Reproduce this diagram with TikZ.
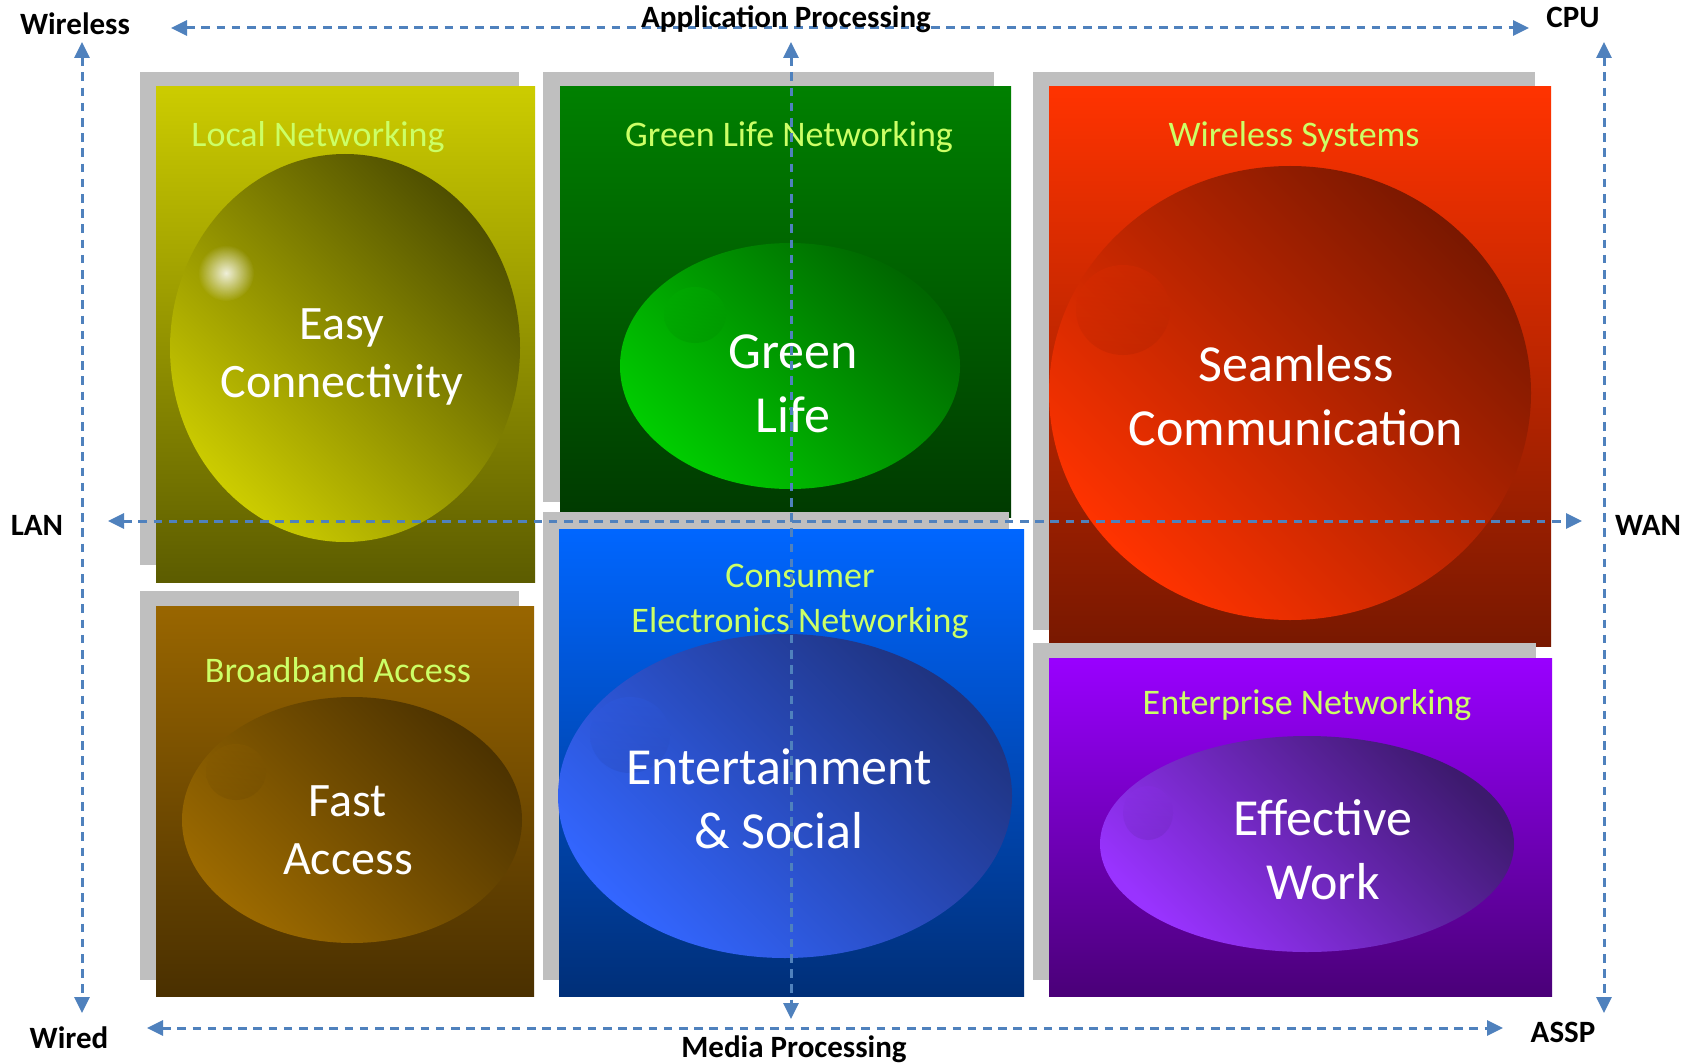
\documentclass[tikz,border=0pt]{standalone}
\usepackage{fontspec}
\setmainfont{Carlito}
\usetikzlibrary{arrows.meta,fadings}

\definecolor{axisblue}{HTML}{4F81BD}
\definecolor{shadowgray}{HTML}{BFBFBF}
\definecolor{titlegreen}{HTML}{CCFF66}
% yellow
\definecolor{yTop}{HTML}{CCCC00}\definecolor{yMid}{HTML}{9E9E00}\definecolor{yBot}{HTML}{5C5C00}
\definecolor{yDark}{HTML}{4F4F00}\definecolor{yBright}{HTML}{CCCC00}
% green
\definecolor{gTop}{HTML}{008000}\definecolor{gBot}{HTML}{003A00}
\definecolor{gDark}{HTML}{006600}\definecolor{gBright}{HTML}{00CC00}
% red
\definecolor{rTop}{HTML}{FF3300}\definecolor{rBot}{HTML}{781800}
\definecolor{rDark}{HTML}{7A1800}\definecolor{rBright}{HTML}{FF3300}
% brown
\definecolor{brTop}{HTML}{996600}\definecolor{brBot}{HTML}{4A3000}
\definecolor{brDark}{HTML}{4D3300}\definecolor{brBright}{HTML}{9C6A00}
% blue
\definecolor{bTop}{HTML}{0066FF}\definecolor{bBot}{HTML}{002F78}
\definecolor{bDark}{HTML}{1F3380}\definecolor{bBright}{HTML}{3366FF}
% purple
\definecolor{pTop}{HTML}{9900FF}\definecolor{pBot}{HTML}{4A0078}
\definecolor{pDark}{HTML}{3D1A6E}\definecolor{pBright}{HTML}{9933FF}

\tikzfading[name=glowfade, inner color=transparent!0, outer color=transparent!100]

\begin{document}
\begin{tikzpicture}[x=0.5pt, y=-0.5pt,
  shadowrect/.style={fill=shadowgray},
  axisarrow/.style={draw=axisblue, line width=1.5pt, dash pattern=on 4.3pt off 3.3pt,
     {Triangle[length=8pt,width=7.5pt]}-{Triangle[length=8pt,width=7.5pt]}},
  axislabel/.style={font=\fontsize{15.5pt}{19pt}\selectfont\bfseries, text=black, inner sep=0pt},
  sectitle/.style={font=\fontsize{18pt}{22.5pt}\selectfont, text=titlegreen, inner sep=0pt, align=center},
  bigsmall/.style={font=\fontsize{24pt}{29pt}\selectfont, text=white, inner sep=0pt, align=center},
  biglarge/.style={font=\fontsize{26pt}{32pt}\selectfont, text=white, inner sep=0pt, align=center},
  reflect/.style={opacity=0.14}
]
\fill[white] (0,0) rectangle (1696,1064);
\useasboundingbox (0,0) rectangle (1696,1064);

% ---------- Local Networking (yellow) ----------
\fill[shadowrect] (140,72) rectangle (519,565);
\shade[top color=yTop, middle color=yMid, bottom color=yBot] (156,87) rectangle (535,582);
\node[sectitle, anchor=base] (tLocal) at (318,147) {Local Networking};
\shade[top color=yDark, bottom color=yBright, shading angle=-45] (345,348) ellipse [x radius=175, y radius=194];
\fill[white, opacity=0.85, path fading=glowfade] (226,273) circle [radius=28];
\node[bigsmall, anchor=base] (bEasy) at (342,397) {Easy\\Connectivity};

% ---------- Green Life Networking ----------
\fill[shadowrect] (543,72) rectangle (994,502);
\shade[top color=gTop, bottom color=gBot] (560,87) rectangle (1011,517);
\node[sectitle, anchor=base] (tGreen) at (789,147) {Green Life Networking};
\shade[top color=gDark, bottom color=gBright, shading angle=-45] (790,366) ellipse [x radius=170, y radius=123];
\shade[reflect, top color=gBright, bottom color=gDark] (695,315) ellipse [x radius=31, y radius=28];
\node[biglarge, anchor=base] (bGreen) at (793,432) {Green\\Life};

% ---------- Wireless Systems (red) ----------
\fill[shadowrect] (1033,72) rectangle (1535,630);
\shade[top color=rTop, bottom color=rBot] (1049,87) rectangle (1551,646);
\node[sectitle, anchor=base] (tWireless) at (1294,147) {Wireless Systems};
\shade[top color=rDark, bottom color=rBright, shading angle=-45] (1290,393) ellipse [x radius=241, y radius=227];
\shade[reflect, top color=rBright, bottom color=rDark] (1123,310) ellipse [x radius=47, y radius=45];
\node[biglarge, anchor=base] (bSeamless) at (1296,445) {Seamless\\Communication};

% ---------- Broadband Access (brown) ----------
\fill[shadowrect] (140,591) rectangle (519,980);
\shade[top color=brTop, bottom color=brBot] (156,606) rectangle (534,996);
\node[sectitle, anchor=base] (tBroad) at (338,682) {Broadband Access};
\shade[top color=brDark, bottom color=brBright, shading angle=-45] (352,820) ellipse [x radius=170, y radius=123];
\shade[reflect, top color=brBright, bottom color=brDark] (236,772) ellipse [x radius=30, y radius=28];
\node[bigsmall, anchor=base] (bFast) at (348,874) {Fast\\Access};

% ---------- Consumer Electronics Networking (blue) ----------
\fill[shadowrect] (543,512) rectangle (1009,980);
\shade[top color=bTop, bottom color=bBot] (559,529) rectangle (1024,996);
\node[sectitle, anchor=base] (tConsumer) at (800,632) {Consumer\\Electronics Networking};
\shade[top color=bDark, bottom color=bBright, shading angle=-45] (785,796) ellipse [x radius=227, y radius=162];
\shade[reflect, top color=bBright, bottom color=bDark] (630,735) ellipse [x radius=40, y radius=38];
\node[biglarge, anchor=base] (bEnt) at (779,848) {Entertainment\\\&~Social};

% ---------- Enterprise Networking (purple) ----------
\fill[shadowrect] (1033,643) rectangle (1536,980);
\shade[top color=pTop, bottom color=pBot] (1049,658) rectangle (1552,996);
\node[sectitle, anchor=base] (tEnter) at (1307,714) {Enterprise Networking};
\shade[top color=pDark, bottom color=pBright, shading angle=-45] (1307,844) ellipse [x radius=207, y radius=108];
\shade[reflect, top color=pBright, bottom color=pDark] (1148,813) ellipse [x radius=25, y radius=27];
\node[biglarge, anchor=base] (bEff) at (1323,899) {Effective\\Work};

% ---------- axes ----------
\coordinate (topL) at (171,28);   \coordinate (topR) at (1529,28);
\coordinate (botL) at (147,1028); \coordinate (botR) at (1503,1028);
\coordinate (lefT) at (82,42);    \coordinate (lefB) at (82,1013);
\coordinate (rigT) at (1604,42);  \coordinate (rigB) at (1604,1013);
\coordinate (midL) at (108,521);  \coordinate (midR) at (1582,521);
\coordinate (midT) at (791,42);   \coordinate (midB) at (791,1019);

\draw[axisarrow] (topL) -- (topR);
\draw[axisarrow] (botL) -- (botR);
\draw[axisarrow] (lefT) -- (lefB);
\draw[axisarrow] (rigT) -- (rigB);
\draw[axisarrow] (midL) -- (midR);
\draw[axisarrow] (midT) -- (midB);

\node[axislabel, anchor=base] (lWireless) at (75,35) {Wireless};
\node[axislabel, anchor=base] (lApp) at (786,28) {Application Processing};
\node[axislabel, anchor=base] (lCPU) at (1573,28) {CPU};
\node[axislabel, anchor=base] (lLAN) at (37,535) {LAN};
\node[axislabel, anchor=base] (lWAN) at (1648,535) {WAN};
\node[axislabel, anchor=base] (lWired) at (69,1048) {Wired};
\node[axislabel, anchor=base] (lMedia) at (794,1057) {Media Processing};
\node[axislabel, anchor=base] (lASSP) at (1563,1042) {ASSP};
\end{tikzpicture}
\end{document}
